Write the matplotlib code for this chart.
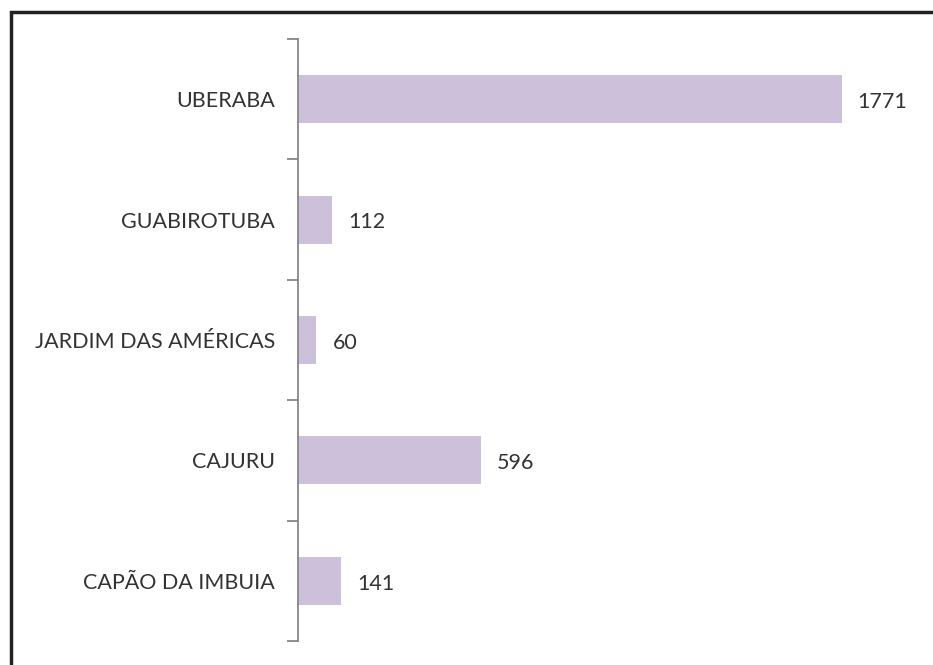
import matplotlib
matplotlib.use("Agg")
import matplotlib.pyplot as plt
from matplotlib.patches import Rectangle
import numpy as np

categories = ["UBERABA", "GUABIROTUBA", "JARDIM DAS AMÉRICAS", "CAJURU", "CAPÃO DA IMBUIA"]
values = [1771, 112, 60, 596, 141]

W, H = 933, 665
fig = plt.figure(figsize=(W/100, H/100), dpi=100)
fig.patch.set_facecolor("white")

ax = fig.add_axes([298/W, 1 - 641/H, 614/W, 602/H])
n = len(categories)
y = np.arange(n)
ax.barh(y, values, height=0.4, color="#CCC0DA", zorder=2)
ax.set_ylim(n - 0.5, -0.5)
ax.set_xlim(0, 2000)

ax.set_yticks(y)
ax.set_yticklabels(categories, fontsize=15.5, color="#333333", family="Lato")
ax.tick_params(axis="y", which="major", length=0, pad=16.5)
ax.set_yticks(np.arange(-0.5, n, 1.0), minor=True)
ax.tick_params(axis="y", which="minor", length=8, width=1.3, color="#868686", direction="out")
ax.set_xticks([])
for s in ["top", "right", "bottom"]:
    ax.spines[s].set_visible(False)
ax.spines["left"].set_color("#868686")
ax.spines["left"].set_linewidth(1.3)

for yi, v in zip(y, values):
    ax.annotate(str(v), (v, yi), xytext=(11.5, -2), textcoords="offset points",
                ha="left", va="center", fontsize=15.5, color="#333333", family="Lato")

fig.patches.append(Rectangle((10.5/W, -0.1), 1.2, 1 - 11.5/H + 0.1, transform=fig.transFigure,
                             fill=False, edgecolor="#222222", linewidth=2.5))

fig.savefig("out.png", dpi=100)
